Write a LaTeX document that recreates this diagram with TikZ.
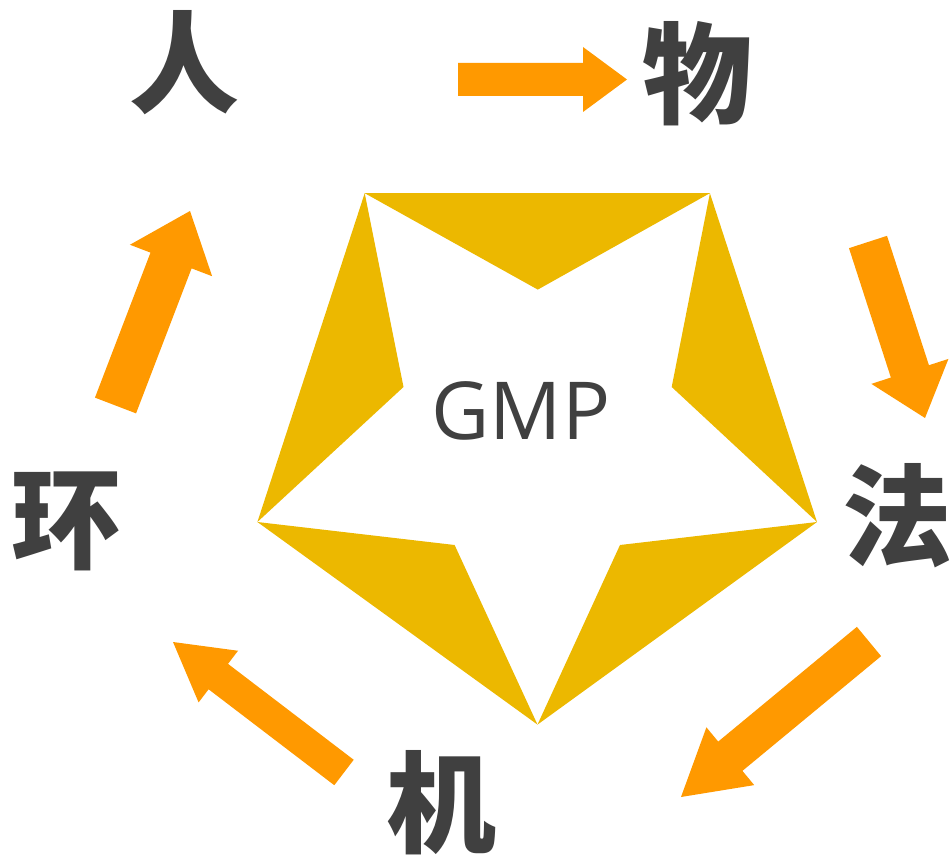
\documentclass[tikz,border=0pt]{standalone}
\usepackage{fontspec}
\setmainfont{Open Sans}
\newfontfamily\cjk{Noto Sans CJK SC}
\usetikzlibrary{calc}
\definecolor{txtgray}{RGB}{64,64,64}
\definecolor{arroworange}{RGB}{255,153,0}
\definecolor{stargold}{RGB}{236,184,0}
\tikzset{
  chr/.style={text=txtgray, inner sep=0pt, font=\cjk\bfseries\fontsize{110}{110}\selectfont},
  gmptext/.style={text=txtgray, inner sep=0pt, font=\fontsize{80}{80}\selectfont},
  blockarr/.style={fill=arroworange, draw=none},
}
% #1 tail, #2 tip, #3 half shaft width, #4 half head width, #5 head length
\newcommand\blockarrow[5]{%
  \coordinate (nk) at ($(#2)!#5!(#1)$);
  \fill[blockarr] ($(#1)!#3!90:(#2)$) -- ($(nk)!#3!90:(#2)$) -- ($(nk)!#4!90:(#2)$)
     -- (#2) -- ($(nk)!#4!-90:(#2)$) -- ($(nk)!#3!-90:(#2)$) -- ($(#1)!#3!-90:(#2)$) -- cycle;
}
\begin{document}
\begin{tikzpicture}[x=1pt,y=-1pt]
\useasboundingbox (0,0) rectangle (951,856);
% pentagon with star cut-out
\coordinate (p1) at (364.7,193.2);
\coordinate (p2) at (709.9,193.2);
\coordinate (p3) at (817,522);
\coordinate (p4) at (537.5,724.6);
\coordinate (p5) at (257.4,522);
\coordinate (q1) at (537.8,289.6);
\coordinate (q2) at (671.7,387);
\coordinate (q3) at (620,545);
\coordinate (q4) at (454.6,545);
\coordinate (q5) at (403.5,387);
\fill[stargold, even odd rule] (p1) -- (p2) -- (p3) -- (p4) -- (p5) -- cycle
  (p1) -- (q1) -- (p2) -- (q2) -- (p3) -- (q3) -- (p4) -- (q4) -- (p5) -- (q5) -- cycle;
\node[gmptext, anchor=base] (gmp) at (521,439.6) {GMP};
% characters
\node[chr] (ren)  at (184,63) {人};
\node[chr] (wu)   at (697,74) {物};
\node[chr] (fa)   at (897,516) {法};
\node[chr] (ji)   at (441,803) {机};
\node[chr] (huan) at (67,521) {环};
% arrows
\coordinate (a1t) at (458,79.5);   \coordinate (a1h) at (627,79.5);
\coordinate (a2t) at (868,242);    \coordinate (a2h) at (925,418);
\coordinate (a3t) at (869,641.5);  \coordinate (a3h) at (681,797);
\coordinate (a4t) at (344,772.5);  \coordinate (a4h) at (173,642);
\coordinate (a5t) at (115.5,405.5);\coordinate (a5h) at (190,211);
\blockarrow{a1t}{a1h}{16.5pt}{32.5pt}{44pt}
\blockarrow{a2t}{a2h}{20pt}{40.5pt}{49pt}
\blockarrow{a3t}{a3h}{19pt}{37.5pt}{64pt}
\blockarrow{a4t}{a4h}{16pt}{32.5pt}{57pt}
\blockarrow{a5t}{a5h}{22pt}{44pt}{53pt}
\end{tikzpicture}
\end{document}
